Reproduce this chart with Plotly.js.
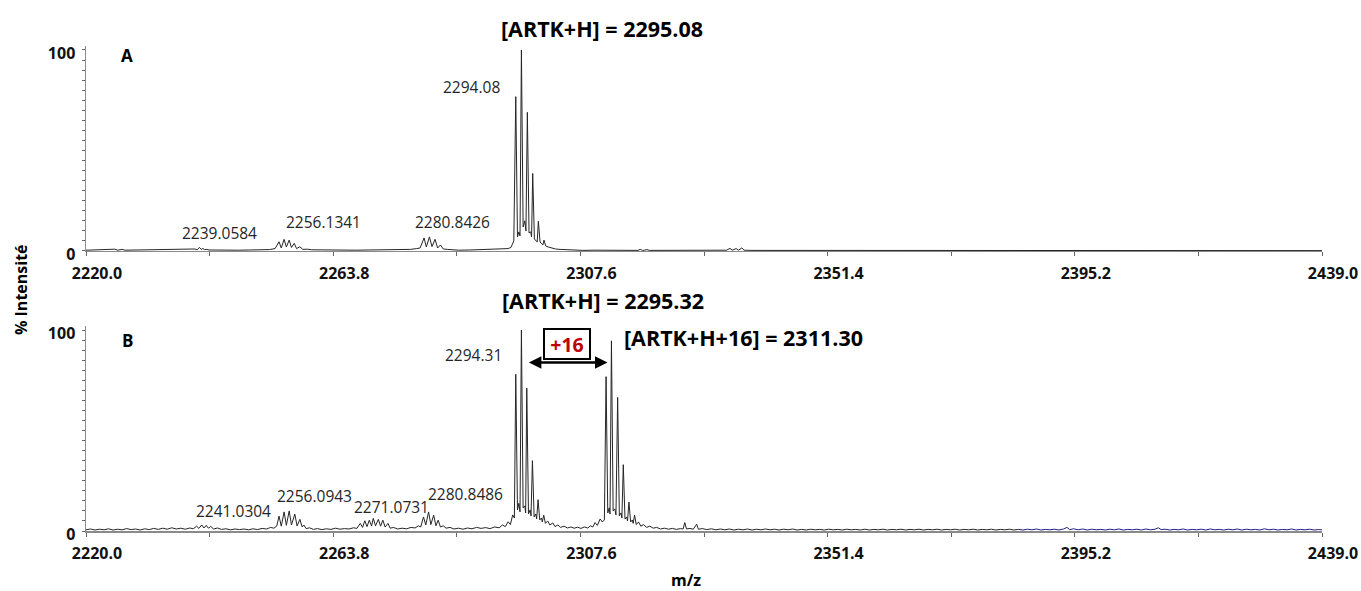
<!DOCTYPE html>
<html>
<head>
<meta charset="utf-8">
<script src="https://cdn.plot.ly/plotly-3.0.1.min.js"></script>
<style>html,body{margin:0;padding:0;background:#fff;}#chart{width:1361px;height:591px;}</style>
</head>
<body>
<div id="chart"></div>
<script>
// ---------- Panel A spectrum (m/z, % intensity) ----------
var mzA = [2220.0,2221.5,2223.0,2224.6,2225.1,2225.6,2226.4,2226.9,2229.0,2231.0,2233.0,2235.0,2236.5,2237.8,2238.6,
  2239.3,2239.7,2240.1,2240.4,2240.7,2241.0,2241.4,2241.8,2243.0,2245.0,2247.0,2249.0,2251.0,2252.5,2253.5,
  2254.2,2254.6,2255.1,2255.5,2256.0,2256.4,2256.9,2257.3,2257.9,2258.4,2259.2,2260.0,2262.0,2264.0,2266.0,
  2268.0,2270.0,2272.0,2274.0,2276.0,2277.5,2278.6,2279.2,2279.9,2280.3,2280.85,2281.3,2281.85,2282.3,2282.8,
  2283.3,2284.0,2285.0,2286.0,2288.0,2290.0,2292.0,2293.5,2294.8,2295.3,2295.8,2296.15,2296.45,2296.7,2296.9,
  2297.15,2297.45,2297.75,2297.95,2298.2,2298.5,2298.8,2298.95,2299.15,2299.45,2299.75,2299.95,2300.15,2300.45,2300.75,
  2300.95,2301.15,2301.45,2301.9,2302.5,2303.2,2304.0,2305.0,2306.0,2308.0,2310.0,2312.0,2314.0,2316.0,2317.8,
  2318.2,2318.6,2319.0,2319.4,2319.8,2322.0,2325.0,2328.0,2331.0,2333.5,2334.1,2334.5,2335.2,2335.6,2336.2,
  2336.6,2338.0,2341.0,2344.0,2347.0,2350.0,2353.0,2356.0,2360.0,2364.0,2368.0,2372.0,2376.0,2380.0,2384.0,
  2388.0,2392.0,2396.0,2400.0,2405.0,2410.0,2415.0,2420.0,2425.0,2430.0,2435.0,2439.0];
var intA = [0.4,0.5,0.4,0.7,0.9,0.4,0.8,0.4,0.5,0.4,0.5,0.6,0.5,0.7,0.6,
  1.0,0.6,1.8,0.8,1.2,0.7,0.8,0.5,0.4,0.5,0.4,0.5,0.6,0.7,1.2,
  4.6,1.5,5.8,2.0,5.4,1.8,3.8,1.2,2.1,0.8,0.9,0.6,0.5,0.6,0.5,
  0.4,0.5,0.6,0.5,0.6,0.8,1.2,1.5,6.5,2.0,7.0,2.2,5.8,1.5,3.0,
  1.0,0.8,0.6,0.4,0.5,0.6,0.8,1.0,1.2,1.8,5.0,76.8,7.0,9.5,7.5,
  100.0,12.0,15.0,10.0,69.0,9.0,9.5,7.0,38.6,6.0,5.0,4.5,14.8,4.5,3.5,
  3.0,5.4,2.5,2.0,1.5,1.0,0.8,0.6,0.5,0.3,0.4,0.3,0.4,0.3,0.3,
  0.8,0.3,0.4,0.7,0.3,0.3,0.4,0.3,0.3,0.4,1.3,0.4,1.2,0.4,1.5,
  0.4,0.3,0.3,0.2,0.3,0.2,0.3,0.2,0.3,0.2,0.3,0.2,0.3,0.2,0.3,
  0.2,0.3,0.2,0.3,0.2,0.3,0.2,0.3,0.2,0.3,0.2,0.2];

// ---------- Panel B spectrum, black part ----------
var mzB = [2220.0,2220.8,2221.6,2222.4,2223.2,2224.0,2224.8,2225.6,2226.4,2227.2,2228.0,2228.8,2229.6,2230.4,2231.2,
  2232.0,2232.8,2233.6,2234.4,2235.2,2236.0,2236.8,2237.6,2238.4,2239.0,2239.6,2240.0,2240.5,2240.9,2241.3,
  2241.7,2242.1,2242.6,2243.3,2244.0,2244.8,2245.6,2246.4,2247.2,2248.0,2248.8,2249.6,2250.4,2251.2,2252.0,
  2252.7,2253.3,2253.8,2254.2,2254.6,2255.1,2255.5,2256.0,2256.4,2257.0,2257.4,2257.9,2258.3,2258.6,2259.0,
  2259.6,2260.3,2261.0,2261.8,2262.6,2263.4,2264.2,2265.0,2265.8,2266.6,2267.4,2268.0,2268.6,2269.0,2269.4,
  2269.8,2270.2,2270.6,2270.9,2271.3,2271.8,2272.2,2272.6,2273.0,2273.5,2273.9,2274.5,2275.2,2276.0,2276.8,
  2277.6,2278.3,2278.9,2279.3,2279.8,2280.2,2280.7,2281.1,2281.6,2282.0,2282.4,2282.8,2283.3,2283.8,2284.5,
  2285.2,2286.0,2286.8,2287.6,2288.4,2289.2,2290.0,2290.8,2291.6,2292.4,2293.2,2293.8,2294.3,2294.8,2295.2,
  2295.6,2295.9,2296.15,2296.45,2296.7,2296.9,2297.15,2297.45,2297.75,2297.9,2298.1,2298.4,2298.7,2298.85,2299.1,
  2299.4,2299.7,2299.85,2300.1,2300.4,2300.7,2300.85,2301.1,2301.4,2301.8,2302.2,2302.7,2303.1,2303.6,2304.1,
  2304.7,2305.3,2305.9,2306.5,2307.1,2307.7,2308.3,2308.9,2309.4,2309.8,2310.2,2310.6,2311.1,2311.5,2311.85,
  2312.15,2312.45,2312.7,2312.85,2313.1,2313.4,2313.7,2313.9,2314.2,2314.5,2314.8,2314.95,2315.2,2315.5,2315.8,
  2315.95,2316.2,2316.5,2316.8,2316.95,2317.2,2317.5,2317.9,2318.3,2318.8,2319.3,2319.9,2320.5,2321.1,2321.8,
  2322.5,2323.2,2323.9,2324.6,2325.3,2325.8,2326.1,2326.4,2327.0,2327.6,2328.2,2328.5,2329.2,2330.0,2330.8,
  2331.6,2332.4,2333.2,2334.0,2334.8,2335.6,2336.4,2337.2,2338.0,2338.8,2339.6,2340.4,2341.2,2342.0,2342.8,
  2343.6,2344.4,2345.2,2346.0,2346.8,2347.6,2348.4,2349.2,2350.0,2350.8,2351.6,2352.4,2353.2,2354.0,2354.8,
  2355.6,2356.4,2357.2,2358.0,2358.8,2359.6,2360.4,2361.2,2362.0,2362.8,2363.6,2364.4,2365.2,2366.0,2366.8,
  2367.6,2368.4,2369.2,2370.0,2370.8,2371.6,2372.4,2373.2,2374.0,2374.8,2375.6,2376.4,2377.2,2378.0,2378.8,
  2379.6,2380.4,2381.2,2382.0,2382.8,2383.6,2384.4,2385.2];
var intB = [0.6,1.0,0.5,0.9,0.6,1.1,0.5,0.9,0.6,1.2,0.7,1.0,0.5,1.1,0.7,
  1.3,0.8,1.4,0.9,1.6,1.0,1.4,0.9,1.5,1.1,2.4,1.3,3.0,1.5,2.8,
  1.4,2.3,1.0,1.5,0.8,1.1,0.6,1.0,0.7,1.0,0.6,1.1,0.7,1.3,1.0,
  1.8,1.4,2.5,7.4,2.4,9.5,2.8,10.0,3.0,8.4,2.5,5.8,2.0,3.0,1.2,
  1.6,0.8,1.2,0.7,1.1,0.8,1.4,0.9,1.2,1.0,1.6,1.3,3.8,1.8,5.1,
  2.2,5.4,2.5,6.3,2.6,5.8,2.4,5.4,2.0,3.8,1.4,1.8,1.0,1.4,1.1,
  1.8,1.5,2.6,2.0,7.0,3.0,9.5,3.2,7.9,2.6,5.4,2.0,2.6,1.4,1.8,
  1.0,1.4,0.9,1.5,1.1,1.8,1.3,1.7,1.2,2.0,1.6,3.0,2.2,4.6,3.2,
  8.0,6.5,78.0,10.5,13.8,9.5,100.0,11.5,12.5,9.0,71.1,8.5,10.5,7.5,35.0,
  7.0,8.5,6.0,15.6,5.5,6.5,4.5,7.9,3.8,5.0,3.0,4.0,2.2,3.0,1.8,
  2.4,1.5,2.0,1.4,1.9,1.3,2.0,1.5,2.6,2.0,4.2,2.8,6.0,4.5,5.5,
  76.8,9.0,11.5,8.5,94.6,10.0,11.0,8.0,66.5,7.5,9.0,6.5,33.0,6.0,7.0,
  5.0,14.4,4.5,5.5,3.8,7.9,3.2,4.5,2.4,3.2,1.8,2.4,1.4,1.8,1.0,
  1.4,0.9,1.3,0.8,1.2,1.0,4.2,1.0,1.3,0.9,3.4,0.9,1.2,0.7,1.1,
  0.6,1.0,0.6,1.0,0.5,0.9,0.6,1.0,0.5,0.9,0.6,1.0,0.6,0.9,0.5,
  0.9,0.6,1.0,0.5,0.8,0.5,0.9,0.6,0.8,0.5,0.9,0.6,0.8,0.5,0.9,
  0.6,0.8,0.5,0.9,0.5,0.8,0.6,0.9,0.5,0.8,0.6,0.9,0.5,0.8,0.6,
  0.9,0.5,0.8,0.6,0.9,0.5,0.8,0.6,0.9,0.5,0.8,0.6,0.9,0.5,0.8,
  0.6,0.9,0.5,0.8,0.6,0.9,0.5,0.8];

// ---------- Panel B spectrum, blue part ----------
var mzBblue = [2385.2,2386.0,2386.8,2387.6,2388.4,2389.2,2390.0,2390.8,2391.6,2392.4,2393.2,2393.8,2394.3,2395.0,2395.8,
  2396.6,2397.4,2398.2,2399.0,2399.8,2400.6,2401.4,2402.2,2403.0,2403.8,2404.6,2405.4,2406.2,2407.0,2407.8,
  2408.6,2409.4,2410.0,2410.5,2411.2,2412.0,2412.8,2413.6,2414.4,2415.2,2416.0,2416.8,2417.6,2418.4,2419.2,
  2420.0,2420.8,2421.6,2422.4,2423.2,2424.0,2424.8,2425.6,2426.4,2427.2,2428.0,2428.8,2429.6,2430.4,2431.2,
  2432.0,2432.8,2433.6,2434.4,2435.2,2436.0,2436.8,2437.6,2438.4,2439.0];
var intBblue = [0.8,0.5,0.9,0.6,1.0,0.5,0.8,0.6,0.9,0.5,1.0,1.8,0.7,1.1,0.6,
  1.0,0.5,0.9,0.6,0.8,0.5,0.9,0.6,1.0,0.5,0.8,0.6,0.9,0.5,1.0,
  0.6,0.9,1.6,0.7,0.9,0.5,0.8,0.6,1.0,0.5,0.8,0.6,0.9,0.5,1.0,
  0.6,0.8,0.5,0.9,0.6,1.0,0.5,0.9,0.6,0.8,0.5,1.1,0.6,0.9,0.5,
  0.8,0.6,1.0,0.5,0.8,0.6,0.9,0.5,0.7,0.6];

// ---------- Text labels ----------
var xTickVals = [2220.0,2263.8,2307.6,2351.4,2395.2,2439.0];
var peakLabelsA = ['2239.0584','2256.1341','2280.8426','2294.08'];
var peakLabelXA = [2243.6,2262.0,2284.9,2288.35];
var peakLabelYA = [9.2,14.2,14.2,81.6];
var peakLabelsB = ['2241.0304','2256.0943','2271.0731','2280.8486','2294.31'];
var peakLabelXB = [2246.2,2260.5,2274.05,2287.2,2288.6];
var peakLabelYB = [10.0,17.4,11.9,18.4,87.6];

var FONT = '"Open Sans", "Noto Sans", sans-serif';
var LINE = '#262626';

var traces = [
  {x: mzA, y: intA, xaxis: 'x', yaxis: 'y', type: 'scatter', mode: 'lines',
   line: {color: LINE, width: 1}, hoverinfo: 'skip'},
  {x: mzB, y: intB, xaxis: 'x2', yaxis: 'y2', type: 'scatter', mode: 'lines',
   line: {color: LINE, width: 1}, hoverinfo: 'skip'},
  {x: mzBblue, y: intBblue, xaxis: 'x2', yaxis: 'y2', type: 'scatter', mode: 'lines',
   line: {color: '#20208a', width: 1}, hoverinfo: 'skip'}
];

function xax(anchor) {
  return {
    anchor: anchor, domain: [0, 1], range: [2220, 2439],
    showgrid: false, zeroline: false, showline: true, linecolor: '#8a8a8a', linewidth: 1.5,
    tickmode: 'array', tickvals: xTickVals, ticktext: xTickVals.map(function (v) { return v.toFixed(1); }),
    ticks: 'outside', ticklen: 4, tickwidth: 1, tickcolor: '#666',
    minor: {tickmode: 'linear', tick0: 2220, dtick: 21.9, ticks: 'outside', ticklen: 4, tickwidth: 1, tickcolor: '#666'},
    ticklabelshift: 11, ticklabelstandoff: 3,
    tickfont: {family: FONT, size: 16, color: '#111', weight: 700}
  };
}
function yax(anchor, dom) {
  var vals = [], txt = [];
  for (var i = 0; i <= 20; i++) { vals.push(i * 5); txt.push(i === 0 ? '0' : (i === 20 ? '100' : '')); }
  return {
    anchor: anchor, domain: dom, range: [0, 102],
    showgrid: false, zeroline: false, showline: true, linecolor: '#8a8a8a', linewidth: 1.5,
    tickmode: 'array', tickvals: vals, ticktext: txt,
    ticks: 'outside', ticklen: 3, tickwidth: 1, tickcolor: '#666',
    ticklabelshift: 3, ticklabelstandoff: 3,
    tickfont: {family: FONT, size: 16, color: '#111', weight: 700}
  };
}

var ann = [];
peakLabelsA.forEach(function (t, i) {
  ann.push({xref: 'x', yref: 'y', x: peakLabelXA[i], y: peakLabelYA[i], text: t, showarrow: false,
    font: {family: FONT, size: 15.5, color: '#262626'}});
});
peakLabelsB.forEach(function (t, i) {
  ann.push({xref: 'x2', yref: 'y2', x: peakLabelXB[i], y: peakLabelYB[i], text: t, showarrow: false,
    font: {family: FONT, size: 15.5, color: '#262626'}});
});
function paperText(t, px, py, size, anchor, extra) {
  var a = {xref: 'paper', yref: 'paper', x: (px - 86) / 1236, y: (591 - py) / 591, text: t, showarrow: false,
    xanchor: anchor || 'center', yanchor: 'middle', font: {family: FONT, size: size, color: '#000', weight: 700}};
  if (extra) for (var k in extra) a[k] = extra[k];
  return a;
}
ann.push(paperText('[ARTK+H] = 2295.08', 601.5, 29, 21.5));
ann.push(paperText('[ARTK+H] = 2295.32', 603, 300, 21.5));
ann.push(paperText('[ARTK+H+16] = 2311.30', 621.7, 337, 21.5, 'left'));
ann.push(paperText('A', 127, 55, 17));
ann.push(paperText('B', 127, 340, 17));
ann.push(paperText('m/z', 686, 580, 16));
ann.push(paperText('% Intensité', 21, 290, 16, 'center', {textangle: -90}));
// double arrow + "+16" box
ann.push({xref: 'x2', yref: 'y2', axref: 'x2', ayref: 'y2', x: 2312.4, y: 83.9, ax: 2298.2, ay: 83.9,
  text: '', showarrow: true, arrowside: 'end+start', arrowhead: 2, arrowsize: 1, arrowwidth: 2.5, arrowcolor: '#000',
  standoff: 0, startstandoff: 0});
ann.push({xref: 'x2', yref: 'y2', x: 2305.2, y: 93.1, text: '+16', showarrow: false,
  bordercolor: '#000', borderwidth: 2, borderpad: 0, bgcolor: '#fff', width: 44, height: 28,
  font: {family: FONT, size: 19.5, color: '#c00000', weight: 700}});

var layout = {
  width: 1361, height: 591,
  margin: {l: 86, r: 39, t: 0, b: 0},
  paper_bgcolor: '#fff', plot_bgcolor: '#fff',
  showlegend: false,
  font: {family: FONT},
  xaxis: xax('y'),
  yaxis: yax('x', [0.5753, 0.9222]),
  xaxis2: xax('y2'),
  yaxis2: yax('x2', [0.1015, 0.4484]),
  annotations: ann
};

Plotly.newPlot('chart', traces, layout, {staticPlot: true, displayModeBar: false});
</script>
</body>
</html>
